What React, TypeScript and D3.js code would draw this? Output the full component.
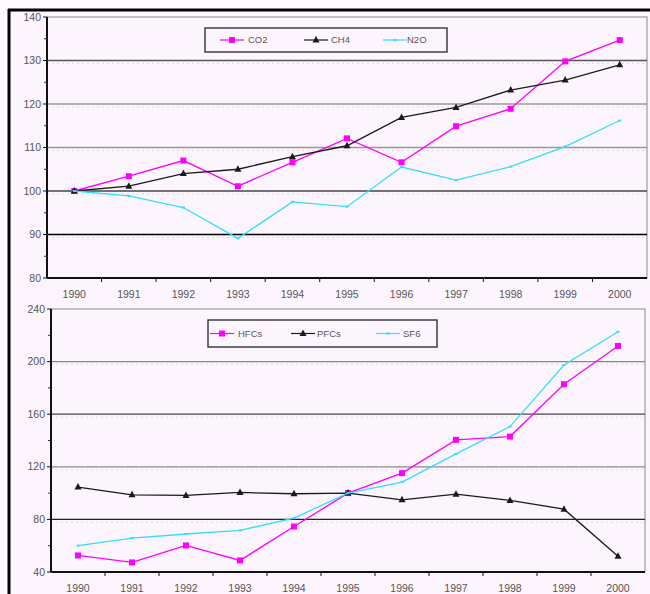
import React from "react";
import * as d3 from "d3";

// categories
const years = ["1990", "1991", "1992", "1993", "1994", "1995", "1996", "1997", "1998", "1999", "2000"];

// top chart (index 1990 = 100)
const co2 = [100, 103.4, 107, 101.1, 106.6, 112.1, 106.6, 114.9, 118.9, 129.8, 134.7];
const ch4 = [100, 101.1, 104, 105, 107.9, 110.4, 116.9, 119.2, 123.2, 125.5, 129];
const n2o = [100, 98.9, 96.2, 89.1, 97.5, 96.4, 105.5, 102.5, 105.6, 110.2, 116.2];
const topTicks = [80, 90, 100, 110, 120, 130, 140];

// bottom chart (index 1995 = 100)
const hfcs = [52.6, 47.3, 60.2, 48.8, 74.6, 100, 115.2, 140.5, 143, 182.8, 211.9];
const pfcs = [104.6, 98.7, 98.2, 100.5, 99.5, 100, 94.9, 99.2, 94.4, 87.8, 51.9];
const sf6 = [60, 65.8, 68.9, 71.6, 81, 100, 108.4, 129.8, 150.6, 197.4, 222.7];
const bottomTicks = [40, 80, 120, 160, 200, 240];

const MAGENTA = "#ff00ff";
const BLACK = "#1a1a1a";
const CYAN = "#33ddff";
const BG = "#fdf5fd";
const FONT = "Liberation Sans, Arial, sans-serif";

type Series = { name: string; values: number[]; color: string; marker: "square" | "triangle" | "dot" };

function Marker({ x, y, kind, color }: { x: number; y: number; kind: string; color: string }) {
  if (kind === "square") return <rect x={x - 3} y={y - 3} width={6} height={6} fill={color} />;
  if (kind === "triangle")
    return <path d={`M${x},${y - 4}L${x + 3.5},${y + 2.5}L${x - 3.5},${y + 2.5}Z`} fill={color} />;
  return <rect x={x - 1.5} y={y - 1} width={3} height={2} fill={color} />;
}

function LineChart(props: {
  series: Series[];
  ticks: number[];
  left: number;
  right: number;
  top: number;
  bottom: number;
  gridColors: Record<number, string>;
  legend: { x: number; y: number; w: number; h: number; items: number[]; text: number[] };
}) {
  const { series, ticks, left, right, top, bottom, gridColors, legend } = props;
  const x = d3.scaleBand().domain(years).range([left, right]);
  const y = d3.scaleLinear().domain([ticks[0], ticks[ticks.length - 1]]).range([bottom, top]);
  const step = ticks[1] - ticks[0];
  const minor = ticks.slice(0, -1).map((t) => t + step / 2);
  const line = d3
    .line<number>()
    .x((_, i) => (x(years[i]) as number) + x.bandwidth() / 2)
    .y((d) => y(d));

  return (
    <g>
      <rect x={left} y={top} width={right - left} height={bottom - top} fill={BG} stroke="#888" strokeWidth={1} />
      {ticks.slice(1, -1).map((t) => (
        <line key={t} x1={left} x2={right} y1={y(t)} y2={y(t)} stroke={gridColors[t] || "#999"} strokeWidth={1.3} />
      ))}
      {ticks.slice(1, -1).map((t) => (
        <line
          key={"d" + t}
          x1={left}
          x2={right}
          y1={y(t) + 3}
          y2={y(t) + 3}
          stroke="#ddd"
          strokeDasharray="2,3"
          strokeWidth={1}
        />
      ))}
      {/* axes */}
      <line x1={left} x2={left} y1={top} y2={bottom} stroke="#111" strokeWidth={2} />
      <line x1={left} x2={right} y1={bottom} y2={bottom} stroke="#111" strokeWidth={2} />
      {ticks.map((t) => (
        <g key={"t" + t}>
          <line x1={left - 4} x2={left} y1={y(t)} y2={y(t)} stroke="#111" />
          <text x={left - 6} y={y(t) + 3.5} textAnchor="end" fontSize={10.5} fill="#555" fontFamily={FONT}>
            {t}
          </text>
        </g>
      ))}
      {minor.map((t) => (
        <line key={"m" + t} x1={left - 3} x2={left} y1={y(t)} y2={y(t)} stroke="#333" />
      ))}
      {years.slice(1).map((yr) => (
        <line key={"xt" + yr} x1={x(yr)} x2={x(yr)} y1={bottom} y2={bottom + 4} stroke="#111" />
      ))}
      {years.map((yr) => (
        <text
          key={"xl" + yr}
          x={(x(yr) as number) + x.bandwidth() / 2}
          y={bottom + 20}
          textAnchor="middle"
          fontSize={10.5}
          fill="#555"
          fontFamily={FONT}
        >
          {yr}
        </text>
      ))}
      {series.map((s) => (
        <g key={s.name}>
          <path d={line(s.values) || ""} fill="none" stroke={s.color} strokeWidth={1.3} />
          {s.values.map((v, i) => (
            <Marker
              key={i}
              x={(x(years[i]) as number) + x.bandwidth() / 2}
              y={y(v)}
              kind={s.marker}
              color={s.color}
            />
          ))}
        </g>
      ))}
      {/* legend */}
      <rect x={legend.x} y={legend.y} width={legend.w} height={legend.h} fill={BG} stroke="#333" strokeWidth={1.4} />
      {series.map((s, i) => {
        const lx = legend.items[i];
        const cy = legend.y + legend.h / 2;
        return (
          <g key={"lg" + s.name}>
            <line x1={lx - 12} x2={lx + 12} y1={cy} y2={cy} stroke={s.color} strokeWidth={1.2} />
            <Marker x={lx} y={cy} kind={s.marker} color={s.color} />
            <text x={legend.text[i]} y={cy + 3} fontSize={9.5} fill="#555" fontFamily={FONT}>
              {s.name}
            </text>
          </g>
        );
      })}
    </g>
  );
}

export default function App() {
  const topSeries: Series[] = [
    { name: "CO2", values: co2, color: MAGENTA, marker: "square" },
    { name: "CH4", values: ch4, color: BLACK, marker: "triangle" },
    { name: "N2O", values: n2o, color: CYAN, marker: "dot" },
  ];
  const bottomSeries: Series[] = [
    { name: "HFCs", values: hfcs, color: MAGENTA, marker: "square" },
    { name: "PFCs", values: pfcs, color: BLACK, marker: "triangle" },
    { name: "SF6", values: sf6, color: CYAN, marker: "dot" },
  ];
  return (
    <svg width={650} height={594} style={{ position: "absolute", left: 0, top: 0 }}>
      <rect x={0} y={0} width={650} height={594} fill="#fffaff" />
      <rect x={9} y={10} width={641} height={584} fill={BG} />
      <LineChart
        series={topSeries}
        ticks={topTicks}
        left={47}
        right={647}
        top={17}
        bottom={278}
        gridColors={{ 90: "#000", 100: "#444", 110: "#999", 120: "#999", 130: "#555" }}
        legend={{ x: 205, y: 28, w: 242, h: 24, items: [232, 316, 395], text: [248, 331, 407] }}
      />
      <LineChart
        series={bottomSeries}
        ticks={bottomTicks}
        left={51}
        right={645}
        top={309}
        bottom={572}
        gridColors={{ 80: "#222", 120: "#888", 160: "#444", 200: "#888" }}
        legend={{ x: 208, y: 320, w: 229, h: 27, items: [222, 303, 388], text: [238, 317, 403] }}
      />
      {/* outer frame */}
      <line x1={8} x2={650} y1={10} y2={10} stroke="#000" strokeWidth={3} />
      <line x1={9} x2={9} y1={9} y2={594} stroke="#000" strokeWidth={3} />
    </svg>
  );
}
